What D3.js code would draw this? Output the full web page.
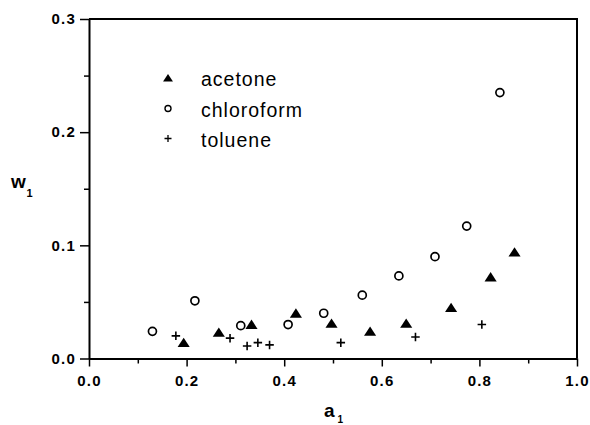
<!DOCTYPE html>
<html>
<head>
<meta charset="utf-8">
<script src="https://cdn.jsdelivr.net/npm/d3@7"></script>
<style>
  html, body { margin: 0; padding: 0; background: #fff; }
  svg { display: block; font-family: Arial, "Liberation Sans", Helvetica, sans-serif; }
</style>
</head>
<body>
<svg id="chart" width="590" height="425"></svg>
<script>
// Solvent activity a1 versus weight fraction w1
const acetoneA = [0.194, 0.266, 0.333, 0.424, 0.497, 0.576, 0.650, 0.742, 0.823, 0.872];
const acetoneW = [0.014, 0.023, 0.030, 0.040, 0.031, 0.024, 0.031, 0.045, 0.072, 0.094];

const chloroformA = [0.130, 0.217, 0.311, 0.408, 0.481, 0.560, 0.635, 0.709, 0.774, 0.842];
const chloroformW = [0.024, 0.051, 0.029, 0.030, 0.040, 0.056, 0.073, 0.090, 0.117, 0.235];

const tolueneA = [0.178, 0.289, 0.324, 0.346, 0.370, 0.516, 0.669, 0.805];
const tolueneW = [0.020, 0.018, 0.011, 0.014, 0.012, 0.014, 0.019, 0.030];

const xTicks = [0.0, 0.2, 0.4, 0.6, 0.8, 1.0];
const xMinorTicks = [0.1, 0.3, 0.5, 0.7, 0.9];
const yTicks = [0.0, 0.1, 0.2, 0.3];
const yMinorTicks = [0.05, 0.15, 0.25];

const seriesNames = ["acetone", "chloroform", "toluene"];

const svg = d3.select("#chart");
const plotLeft = 89, plotRight = 577, plotTop = 19, plotBottom = 358.5;

const x = d3.scaleLinear().domain([0, 1]).range([plotLeft, plotRight]);
const y = d3.scaleLinear().domain([0, 0.3]).range([plotBottom, plotTop]);

// frame (top and right edges)
svg.append("path")
  .attr("d", `M${plotLeft},${plotTop}H${plotRight}V${plotBottom}`)
  .attr("fill", "none").attr("stroke", "#000").attr("stroke-width", 2);

function styleAxis(g) {
  g.select(".domain").attr("stroke", "#000").attr("stroke-width", 2);
  g.selectAll(".tick line").attr("stroke", "#000").attr("stroke-width", 1.5);
  g.selectAll(".tick text")
    .attr("fill", "#000")
    .style("font-size", "15px")
    .style("font-weight", "bold")
    .style("letter-spacing", "1.2px");
}

// x axis
const gx = svg.append("g").attr("transform", `translate(0,${plotBottom})`)
  .call(d3.axisBottom(x).tickValues(xTicks).tickFormat(d3.format(".1f"))
    .tickSize(8).tickSizeOuter(0).tickPadding(9));
styleAxis(gx);
svg.append("g").attr("transform", `translate(0,${plotBottom})`)
  .call(d3.axisBottom(x).tickValues(xMinorTicks).tickFormat("").tickSize(5).tickSizeOuter(0))
  .call(g => { g.select(".domain").remove(); g.selectAll("line").attr("stroke", "#000").attr("stroke-width", 1.5); });

// y axis
const gy = svg.append("g").attr("transform", `translate(${plotLeft},0)`)
  .call(d3.axisLeft(y).tickValues(yTicks).tickFormat(d3.format(".1f"))
    .tickSize(9).tickSizeOuter(0).tickPadding(4));
styleAxis(gy);
svg.append("g").attr("transform", `translate(${plotLeft},0)`)
  .call(d3.axisLeft(y).tickValues(yMinorTicks).tickFormat("").tickSize(5).tickSizeOuter(0))
  .call(g => { g.select(".domain").remove(); g.selectAll("line").attr("stroke", "#000").attr("stroke-width", 1.5); });

// axis titles
const yTitle = svg.append("text").attr("x", 11).attr("y", 188)
  .style("font-size", "19px").style("font-weight", "bold").attr("fill", "#000");
yTitle.append("tspan").text("w");
yTitle.append("tspan").attr("x", 26.5).attr("y", 197).style("font-size", "11px").text("1");

const xTitle = svg.append("text").attr("x", 324).attr("y", 417)
  .style("font-size", "19px").style("font-weight", "bold").attr("fill", "#000");
xTitle.append("tspan").text("a");
xTitle.append("tspan").attr("x", 337.5).attr("y", 423).style("font-size", "10px").text("1");

// marker drawers
function triangle(g, cx, cy, s) {
  g.append("path")
    .attr("d", `M${cx},${cy - 0.45 * s}L${cx + 0.55 * s},${cy + 0.4 * s}L${cx - 0.55 * s},${cy + 0.4 * s}Z`)
    .attr("fill", "#000");
}
function circle(g, cx, cy, r, sw) {
  g.append("circle").attr("cx", cx).attr("cy", cy).attr("r", r)
    .attr("fill", "none").attr("stroke", "#000").attr("stroke-width", sw);
}
function plus(g, cx, cy, s, sw) {
  g.append("path")
    .attr("d", `M${cx - s / 2},${cy}H${cx + s / 2}M${cx},${cy - s / 2}V${cy + s / 2}`)
    .attr("stroke", "#000").attr("stroke-width", sw).attr("fill", "none");
}

const marks = svg.append("g");
chloroformA.forEach((a, i) => circle(marks, x(a), y(chloroformW[i]), 4, 1.7));
acetoneA.forEach((a, i) => triangle(marks, x(a), y(acetoneW[i]), 11));
tolueneA.forEach((a, i) => plus(marks, x(a), y(tolueneW[i]), 8.5, 1.6));

// legend
const legend = svg.append("g");
const legendY = [78, 108.5, 138.5];
triangle(legend, 168, legendY[0], 9);
circle(legend, 168, legendY[1], 3, 1.4);
plus(legend, 168, legendY[2], 7, 1.3);
seriesNames.forEach((name, i) => {
  legend.append("text")
    .attr("x", 201).attr("y", legendY[i] + 8)
    .style("font-size", "19.5px").style("letter-spacing", "1px")
    .attr("fill", "#000").text(name);
});
</script>
</body>
</html>
